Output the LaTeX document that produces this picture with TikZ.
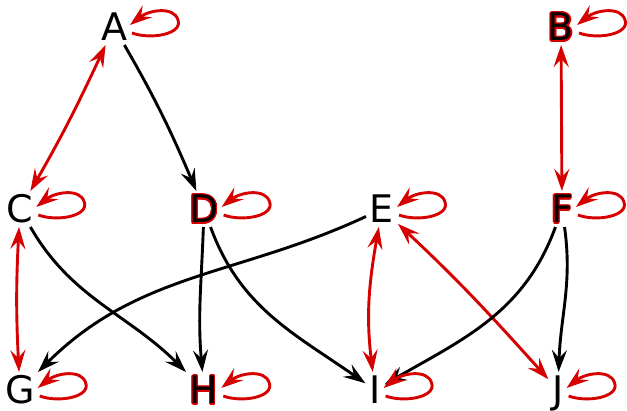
\documentclass[tikz,border=0pt]{standalone}
\usepackage{fontspec}
\setmainfont{DejaVu Sans}
\usetikzlibrary{arrows.meta}
\definecolor{myred}{RGB}{215,0,0}
\newcommand\hl[1]{\textcolor{myred!70!black}{#1}}
\IfFileExists{contour.sty}{\usepackage{contour}\contourlength{1.1pt}\renewcommand\hl[1]{\contour{myred}{##1}}}{}
\newcommand\selfloop[1]{\draw[lp] ([shift={(1,-6)}]#1.east) .. controls ([shift={(20,-13)}]#1.east) and ([shift={(52,-7)}]#1.east) .. ([shift={(47,7)}]#1.east) .. controls ([shift={(43,21)}]#1.east) and ([shift={(18,17)}]#1.east) .. ([shift={(-1,2)}]#1.east);}
\begin{document}
\begin{tikzpicture}[x=1pt,y=1pt,
  lbl/.style={font=\fontsize{38}{40}\selectfont, inner sep=0pt, outer sep=4pt, text height=28pt, text depth=0pt},
  myhead/.tip={Stealth[length=22pt,width=15pt,inset=8pt]},
  blk/.style={-myhead, line width=2.9pt, black},
  rd/.style={myhead-myhead, line width=2.9pt, myred},
  lp/.style={-myhead, line width=2.9pt, myred}]
\useasboundingbox (0,0) rectangle (627,410);
\node[lbl] (A) at (114,383) {A};
\node[lbl] (B) at (561,383) {\hl{B}};
\node[lbl] (C) at (20,201) {C};
\node[lbl] (D) at (204,201) {\hl{D}};
\node[lbl] (E) at (382,201) {E};
\node[lbl] (F) at (562,201) {\hl{F}};
\node[lbl] (G) at (20,20) {G};
\node[lbl] (H) at (204,20) {\hl{H}};
\node[lbl] (I) at (375,20) {I};
\node[lbl] (J) at (558,20) {J};
\draw[blk] (A) to[out=-60,in=113] (D);
\draw[rd] (A) to[out=-115,in=60] (C);
\draw[rd] (B) -- (F);
\draw[rd] (C) to[out=-93,in=93] (G);
\draw[blk] (C) to[out=-60,in=135] (H);
\draw[blk] (D) to[out=-92,in=95] (H);
\draw[blk] (D) to[out=-70,in=145] (I);
\draw[blk] (E) to[out=205,in=45] (G);
\draw[rd] (E) to[out=-100,in=97] (I);
\draw[rd] (E) to[out=-43,in=132] (J);
\draw[blk] (F) to[out=-110,in=30] (I);
\draw[blk] (F) to[out=-82,in=88] (J);
\selfloop{A}\selfloop{B}\selfloop{C}\selfloop{D}\selfloop{E}
\selfloop{F}\selfloop{G}\selfloop{H}\selfloop{I}\selfloop{J}
\end{tikzpicture}
\end{document}
